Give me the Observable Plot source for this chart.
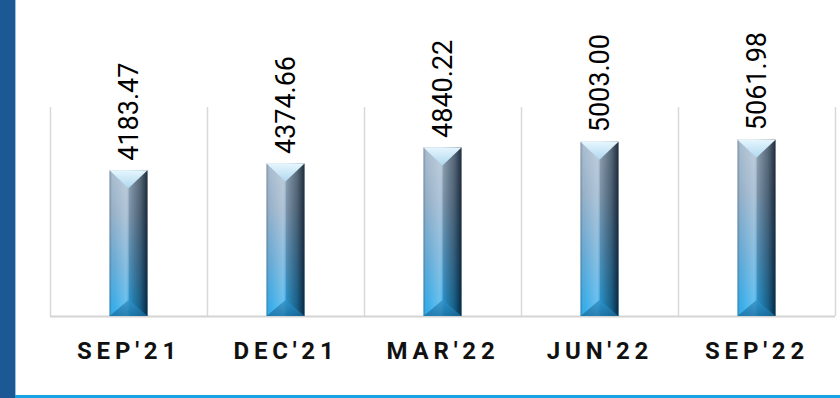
<!DOCTYPE html>
<html>
<head>
<meta charset="utf-8">
<script src="https://cdn.jsdelivr.net/npm/d3@7"></script>
<script src="https://cdn.jsdelivr.net/npm/@observablehq/plot@0.6"></script>
<style>
  html, body { margin: 0; padding: 0; background: #fff; }
  #frame {
    position: relative; width: 840px; height: 398px; box-sizing: border-box;
    background: #fff; overflow: hidden;
  }
  #leftbar { position: absolute; left: 0; top: 0; width: 15px; height: 398px; background: #1b5894; }
  #leftline { position: absolute; left: 15px; top: 0; width: 1px; height: 398px; background: #9cc0e0; }
  #bottombar { position: absolute; left: 15px; bottom: 0; width: 825px; height: 3px; background: #17a3e2; }
  #chart { position: absolute; left: 0; top: 0; }
  #chart svg { font-family: Roboto, "Liberation Sans", sans-serif; }
  #chart g[aria-label^="x-axis"] text { letter-spacing: 4.8px; }
</style>
</head>
<body>
<div id="frame">
  <div id="chart"></div>
  <div id="leftbar"></div>
  <div id="leftline"></div>
  <div id="bottombar"></div>
</div>
<script>
const categories = ["SEP'21", "DEC'21", "MAR'22", "JUN'22", "SEP'22"];
const values = [4183.47, 4374.66, 4840.22, 5003.00, 5061.98];
const valueLabels = ["4183.47", "4374.66", "4840.22", "5003.00", "5061.98"];

const data = categories.map((c, i) => ({cat: c, value: values[i], label: valueLabels[i]}));

const W = 840, H = 398;
const mL = 50, mR = 5, mT = 107, mB = 82;
const step = (W - mL - mR) / categories.length;
const barW = 38;

const plot = Plot.plot({
  width: W,
  height: H,
  marginLeft: mL,
  marginRight: mR,
  marginTop: mT,
  marginBottom: mB,
  style: {background: "transparent", overflow: "visible"},
  x: {domain: categories, padding: 0, label: null, tickSize: 0, tickPadding: 25},
  y: {domain: [0, 6000], axis: null},
  marks: [
    Plot.ruleX(categories, {x: d => d, dx: -step / 2, stroke: "#d9d9d9", strokeWidth: 1.5}),
    Plot.ruleX([categories[categories.length - 1]], {x: d => d, dx: step / 2, stroke: "#d9d9d9", strokeWidth: 1.5}),
    Plot.ruleY([0], {stroke: "#d4d4d4", strokeWidth: 2}),
    Plot.barY(data, {x: "cat", y: "value", fill: "url(#vgrad)", insetLeft: (step - barW) / 2, insetRight: (step - barW) / 2}),
    Plot.text(data, {x: "cat", y: "value", text: "label", rotate: -90, textAnchor: "start", dy: -10, fontSize: 27, fill: "#000"})
  ]
});

document.getElementById("chart").appendChild(plot);

const svg = d3.select(plot);
svg.selectAll('g[aria-label^="x-axis"] text')
  .attr("font-size", 24).attr("font-weight", "bold").attr("fill", "#111");
svg.selectAll('g[aria-label^="x-axis"]')
  .attr("font-size", 24).attr("font-weight", "bold");

// 3D bevel decoration built on the rects Plot drew
const defs = svg.insert("defs", ":first-child");
function lin(id, vertical, stops) {
  const g = defs.append("linearGradient").attr("id", id)
    .attr("x1", 0).attr("y1", 0).attr("x2", vertical ? 0 : 1).attr("y2", vertical ? 1 : 0);
  stops.forEach(([o, c, a]) => g.append("stop").attr("offset", o).attr("stop-color", c).attr("stop-opacity", a == null ? 1 : a));
}
lin("vgrad", true, [[0, "#a6bbce"], [0.3, "#92adc6"], [0.65, "#5ea6d4"], [1, "#24a9ec"]]);
lin("hgrad", false, [[0, "#0a1c30", 0.3], [0.1, "#ffffff", 0.05], [0.44, "#ffffff", 0.28], [0.5, "#ffffff", 0.12], [0.52, "#000000", 0.05], [0.8, "#001020", 0.4], [1, "#000a18", 0.78]]);
lin("topgrad", true, [[0, "#e6f6fe"], [1, "#b0d8f0"]]);
lin("botgrad", true, [[0, "#2f8fc4"], [1, "#1a6b9c"]]);

svg.selectAll('g[aria-label="bar"] rect').each(function () {
  const r = d3.select(this);
  const x = +r.attr("x"), y = +r.attr("y"), w = +r.attr("width"), h = +r.attr("height");
  const p = d3.select(this.parentNode);
  p.append("rect").attr("x", x).attr("y", y).attr("width", w).attr("height", h).attr("fill", "url(#hgrad)");
  const th = Math.min(18, h / 2);
  p.append("polygon")
    .attr("points", `${x},${y} ${x + w},${y} ${x + w / 2},${y + th}`)
    .attr("fill", "url(#topgrad)");
  p.append("polygon")
    .attr("points", `${x + w / 2},${y + th} ${x + w},${y} ${x + w},${y + h} ${x + w / 2},${y + h - 16}`)
    .attr("fill", "#000a18").attr("fill-opacity", 0.1);
  p.append("polygon")
    .attr("points", `${x},${y + h} ${x + w},${y + h} ${x + w / 2},${y + h - 16}`)
    .attr("fill", "url(#botgrad)").attr("fill-opacity", 0.75);
});
</script>
</body>
</html>
